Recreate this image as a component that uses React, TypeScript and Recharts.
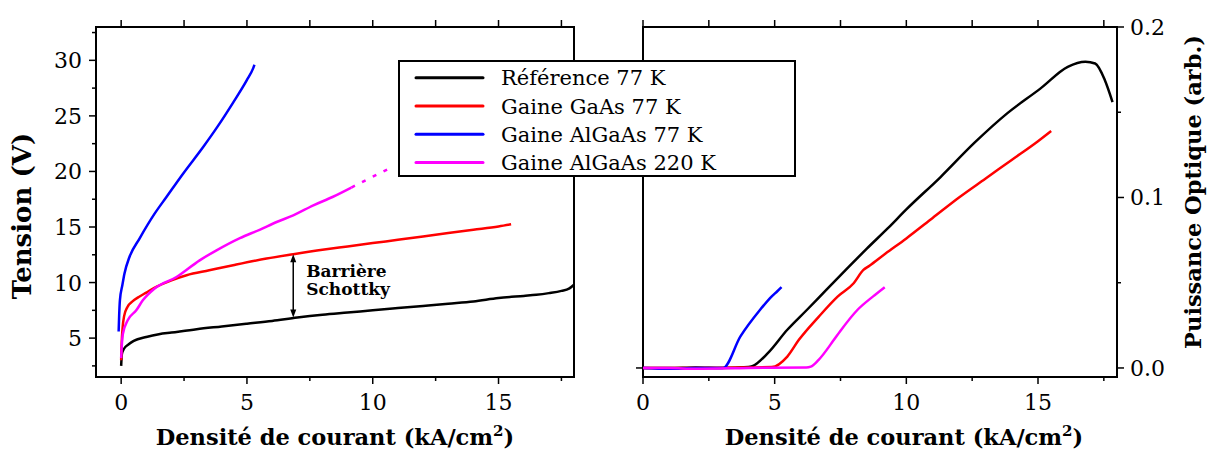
import React from 'react';
import { LineChart, Line, XAxis, YAxis, ReferenceArea, ReferenceLine } from 'recharts';

const FONT = 'DejaVu Serif';

// ---- Tension (V) vs densité de courant (kA/cm2) ----
const refJ = [0, 0.03, 0.1, 0.3, 0.5, 1, 1.5, 2, 3, 4, 5, 6, 7, 8, 9, 10, 11, 12, 13, 14, 15, 16, 16.5, 17, 17.5, 17.8, 18];
const refV = [2.5, 3.6, 4.0, 4.45, 4.75, 5.1, 5.35, 5.5, 5.8, 6.05, 6.3, 6.55, 6.85, 7.1, 7.3, 7.5, 7.7, 7.9, 8.1, 8.3, 8.6, 8.8, 8.9, 9.05, 9.25, 9.45, 9.8];

const gaasJ = [0, 0.02, 0.06, 0.12, 0.25, 0.45, 0.7, 1.0, 1.3, 2, 2.6, 3.5, 4.45, 5.78, 6.84, 8, 9, 10, 11, 12, 13, 14, 15, 15.5];
const gaasV = [3.0, 4.5, 6.0, 7.0, 7.8, 8.3, 8.7, 9.1, 9.5, 10.2, 10.66, 11.1, 11.56, 12.16, 12.55, 12.95, 13.25, 13.55, 13.85, 14.15, 14.45, 14.75, 15.05, 15.24];

const algaJ = [-0.1, -0.08, -0.05, 0.05, 0.13, 0.33, 0.73, 1.33, 1.8, 2.46, 3.26, 3.85, 4.45, 4.99, 5.25, 5.3];
const algaV = [5.6, 7.0, 8.4, 9.8, 10.8, 12.3, 13.96, 16.2, 17.7, 19.8, 22.2, 24.1, 26.2, 28.2, 29.3, 29.6];

const hotJ = [0, 0.03, 0.07, 0.26, 0.6, 0.86, 1.33, 2.2, 3.12, 3.79, 4.72, 5.5, 6.18, 6.84, 7.64, 8.4, 9.15];
const hotV = [3.2, 4.5, 5.4, 6.6, 7.5, 8.4, 9.47, 10.5, 12.0, 12.9, 14.0, 14.75, 15.45, 16.05, 16.95, 17.7, 18.55];
const hotDotJ = [9.15, 9.8, 10.6];
const hotDotV = [18.55, 19.3, 20.2];

// ---- Puissance optique (arb.) ----
const refPJ = [0, 1, 2, 3, 4, 4.15, 4.74, 5.48, 6.22, 6.96, 7.7, 8.5, 9.3, 10, 11.3, 12.58, 13.84, 15.1, 16.13, 16.8, 17.17, 17.54, 17.83];
const refP = [0, 0, 0.0003, 0, 0.0005, 0.001, 0.0087, 0.0224, 0.034, 0.0458, 0.0575, 0.07, 0.082, 0.093, 0.112, 0.132, 0.1495, 0.164, 0.1766, 0.1796, 0.1786, 0.1688, 0.156];

const gaasPJ = [0, 2, 4, 4.89, 5.48, 5.92, 6.67, 7.4, 8.0, 8.37, 8.6, 9.2, 10, 11, 12, 13, 14, 15, 15.5];
const gaasP = [0, 0, 0.0003, 0.0005, 0.0067, 0.0165, 0.03, 0.042, 0.0497, 0.0575, 0.06, 0.067, 0.076, 0.088, 0.1, 0.111, 0.122, 0.133, 0.139];

const algaPJ = [0, 1, 2, 3.04, 3.7, 4.44, 4.89, 5.1, 5.26];
const algaP = [0, -0.0005, 0, 0, 0.0185, 0.034, 0.042, 0.045, 0.0474];

const hotPJ = [0, 1, 2, 4, 6.2, 6.37, 6.67, 7.25, 7.48, 8.14, 8.74, 9.18];
const hotP = [0, 0, -0.0005, 0, 0.0003, 0.0008, 0.0048, 0.0165, 0.0214, 0.034, 0.042, 0.0474];

const jTicks = [0, 2.5, 5, 7.5, 10, 12.5, 15, 17.5];
const vTicks = [2.5, 5, 7.5, 10, 12.5, 15, 17.5, 20, 22.5, 25, 27.5, 30, 32.5];
const pTicks = [0, 0.05, 0.1, 0.15, 0.2];

const legendItems = [
  { name: 'Référence 77 K', color: '#000000' },
  { name: 'Gaine GaAs 77 K', color: '#ff0000' },
  { name: 'Gaine AlGaAs 77 K', color: '#0000ff' },
  { name: 'Gaine AlGaAs 220 K', color: '#ff00ff' },
];

const pts = (xs: number[], ys: number[]) => xs.map((x, i) => ({ x, y: ys[i] }));

const BottomTick = ({ x, y, payload }: any) => {
  const major = payload.value % 5 === 0;
  return (
    <g>
      <line x1={x} x2={x} y1={y} y2={y + (major ? 7 : 4)} stroke="#000" strokeWidth={1.5} />
      {major && (
        <text x={x} y={y + 33} textAnchor="middle" fontFamily={FONT} fontSize={22} fill="#000">
          {payload.value}
        </text>
      )}
    </g>
  );
};

const TopTick = ({ x, y }: any) => (
  <line x1={x} x2={x} y1={y - 7} y2={y} stroke="#000" strokeWidth={1.5} />
);

const VoltTick = ({ x, y, payload }: any) => {
  const major = payload.value % 5 === 0;
  return (
    <g>
      <line x1={x - (major ? 7 : 4)} x2={x} y1={y} y2={y} stroke="#000" strokeWidth={1.5} />
      {major && (
        <text x={x - 14} y={y + 8} textAnchor="end" fontFamily={FONT} fontSize={22} fill="#000">
          {payload.value}
        </text>
      )}
    </g>
  );
};

const PowerTick = ({ x, y, payload }: any) => {
  const major = Math.abs((payload.value * 10) - Math.round(payload.value * 10)) < 1e-6;
  return (
    <g>
      <line x1={x} x2={x + (major ? 7 : 4)} y1={y} y2={y} stroke="#000" strokeWidth={1.5} />
      {major && (
        <text x={x + 13} y={y + 8} textAnchor="start" fontFamily={FONT} fontSize={22} fill="#000">
          {payload.value.toFixed(1)}
        </text>
      )}
    </g>
  );
};

const ZeroTick = ({ x, y }: any) => (
  <line x1={x - 7} x2={x} y1={y} y2={y} stroke="#000" strokeWidth={1.5} />
);

const xTitle = (shift: number) => (props: any) => {
  const { x, y, width } = props.viewBox;
  return (
    <text x={x + width / 2 + shift} y={y + 68} textAnchor="middle" fontFamily={FONT} fontWeight="bold" fontSize={22.5} fill="#000">
      Densité de courant (kA/cm
      <tspan dy={-9} fontSize={15}>2</tspan>
      <tspan dy={9}>)</tspan>
    </text>
  );
};

const voltTitle = (props: any) => {
  const { x, y, height } = props.viewBox;
  const cx = x + 31;
  const cy = y + height / 2 + 14;
  return (
    <text x={cx} y={cy} transform={`rotate(-90 ${cx} ${cy})`} textAnchor="middle" fontFamily={FONT} fontWeight="bold" fontSize={26} fill="#000">
      Tension (V)
    </text>
  );
};

const powerTitle = (props: any) => {
  const { x, y, height } = props.viewBox;
  const cx = x + 84;
  const cy = y + height / 2 - 10;
  return (
    <text x={cx} y={cy} transform={`rotate(-90 ${cx} ${cy})`} textAnchor="middle" fontFamily={FONT} fontWeight="bold" fontSize={22.5} fill="#000">
      Puissance Optique (arb.)
    </text>
  );
};

const BarrierArrow = (props: any) => {
  const { x1, y1, x2, y2 } = props;
  const top = Math.min(y1, y2);
  const bot = Math.max(y1, y2);
  const mid = (top + bot) / 2;
  return (
    <g>
      <line x1={x1} x2={x2} y1={top + 5} y2={bot - 5} stroke="#000" strokeWidth={1.5} />
      <polygon points={`${x1},${top} ${x1 - 3},${top + 8} ${x1 + 3},${top + 8}`} fill="#000" />
      <polygon points={`${x1},${bot} ${x1 - 3},${bot - 8} ${x1 + 3},${bot - 8}`} fill="#000" />
      <text x={x1 + 13} y={mid - 9} fontFamily={FONT} fontWeight="bold" fontSize={17} fill="#000">Barrière</text>
      <text x={x1 + 13} y={mid + 9} fontFamily={FONT} fontWeight="bold" fontSize={17} fill="#000">Schottky</text>
    </g>
  );
};

const Legend = () => (
  <svg width={1212} height={452} style={{ position: 'absolute', left: 0, top: 0, pointerEvents: 'none' }}>
    <rect x={399} y={61} width={396} height={115} fill="#fff" stroke="#000" strokeWidth={2} />
    {legendItems.map((it, i) => {
      const cy = 77.7 + i * 28.3;
      return (
        <g key={it.name}>
          <line x1={416} x2={483} y1={cy} y2={cy} stroke={it.color} strokeWidth={3} strokeLinecap="round" />
          <text x={501} y={cy + 7.5} fontFamily={FONT} fontSize={21} fill="#000">{it.name}</text>
        </g>
      );
    })}
  </svg>
);

const VoltageChart = () => (
  <LineChart width={600} height={452} margin={{ top: 0, right: 26, bottom: 0, left: 0 }}>
    <XAxis dataKey="x" type="number" domain={[-1, 18]} allowDataOverflow ticks={jTicks} interval={0}
      axisLine={false} tickLine={false} tickSize={0} tickMargin={0} tick={<BottomTick />} height={75} label={xTitle(0)} />
    <XAxis xAxisId="top" orientation="top" dataKey="x" type="number" domain={[-1, 18]} allowDataOverflow ticks={jTicks} interval={0}
      axisLine={false} tickLine={false} tickSize={0} tickMargin={0} tick={<TopTick />} height={27} />
    <YAxis type="number" domain={[1.5, 33]} allowDataOverflow ticks={vTicks} interval={0}
      axisLine={false} tickLine={false} tickSize={0} tickMargin={0} tick={<VoltTick />} width={96} label={voltTitle} />
    <ReferenceArea x1={-1} x2={18} y1={1.5} y2={33} fill="none" stroke="#000" strokeWidth={2} ifOverflow="visible" />
    <Line data={pts(refJ, refV)} dataKey="y" type="monotone" stroke="#000000" strokeWidth={2.5} dot={false} isAnimationActive={false} />
    <Line data={pts(gaasJ, gaasV)} dataKey="y" type="monotone" stroke="#ff0000" strokeWidth={2.5} dot={false} isAnimationActive={false} />
    <Line data={pts(algaJ, algaV)} dataKey="y" type="monotone" stroke="#0000ff" strokeWidth={2.5} dot={false} isAnimationActive={false} />
    <Line data={pts(hotJ, hotV)} dataKey="y" type="monotone" stroke="#ff00ff" strokeWidth={2.5} dot={false} isAnimationActive={false} />
    <Line data={pts(hotDotJ, hotDotV)} dataKey="y" type="monotone" stroke="#ff00ff" strokeWidth={2.5} strokeDasharray="4 8" dot={false} isAnimationActive={false} />
    <ReferenceLine segment={[{ x: 6.84, y: 6.86 }, { x: 6.84, y: 12.55 }]} stroke="#000" shape={BarrierArrow} ifOverflow="visible" />
  </LineChart>
);

const PowerChart = () => (
  <LineChart width={612} height={452} margin={{ top: 0, right: 0, bottom: 0, left: 0 }}>
    <XAxis dataKey="x" type="number" domain={[0, 18]} allowDataOverflow ticks={jTicks} interval={0}
      axisLine={false} tickLine={false} tickSize={0} tickMargin={0} tick={<BottomTick />} height={75} label={xTitle(24)} />
    <XAxis xAxisId="top" orientation="top" dataKey="x" type="number" domain={[0, 18]} allowDataOverflow ticks={jTicks} interval={0}
      axisLine={false} tickLine={false} tickSize={0} tickMargin={0} tick={<TopTick />} height={27} />
    <YAxis yAxisId="l" type="number" domain={[-0.0053, 0.2]} allowDataOverflow ticks={[0]} interval={0}
      axisLine={false} tickLine={false} tickSize={0} tickMargin={0} tick={<ZeroTick />} width={43} />
    <YAxis yAxisId="p" orientation="right" type="number" domain={[-0.0053, 0.2]} allowDataOverflow ticks={pTicks} interval={0}
      axisLine={false} tickLine={false} tickSize={0} tickMargin={0} tick={<PowerTick />} width={95} label={powerTitle} />
    <ReferenceArea yAxisId="p" x1={0} x2={18} y1={-0.0053} y2={0.2} fill="none" stroke="#000" strokeWidth={2} ifOverflow="visible" />
    <Line yAxisId="p" data={pts(refPJ, refP)} dataKey="y" type="monotone" stroke="#000000" strokeWidth={2.5} dot={false} isAnimationActive={false} />
    <Line yAxisId="p" data={pts(gaasPJ, gaasP)} dataKey="y" type="monotone" stroke="#ff0000" strokeWidth={2.5} dot={false} isAnimationActive={false} />
    <Line yAxisId="p" data={pts(algaPJ, algaP)} dataKey="y" type="monotone" stroke="#0000ff" strokeWidth={2.5} dot={false} isAnimationActive={false} />
    <Line yAxisId="p" data={pts(hotPJ, hotP)} dataKey="y" type="monotone" stroke="#ff00ff" strokeWidth={2.5} dot={false} isAnimationActive={false} />
  </LineChart>
);

export default function App() {
  return (
    <div style={{ position: 'absolute', left: 0, top: 0, width: 1212, height: 452, background: '#fff', fontFamily: FONT }}>
      <div style={{ position: 'absolute', left: 0, top: 0 }}>
        <VoltageChart />
      </div>
      <div style={{ position: 'absolute', left: 600, top: 0 }}>
        <PowerChart />
      </div>
      <Legend />
    </div>
  );
}
